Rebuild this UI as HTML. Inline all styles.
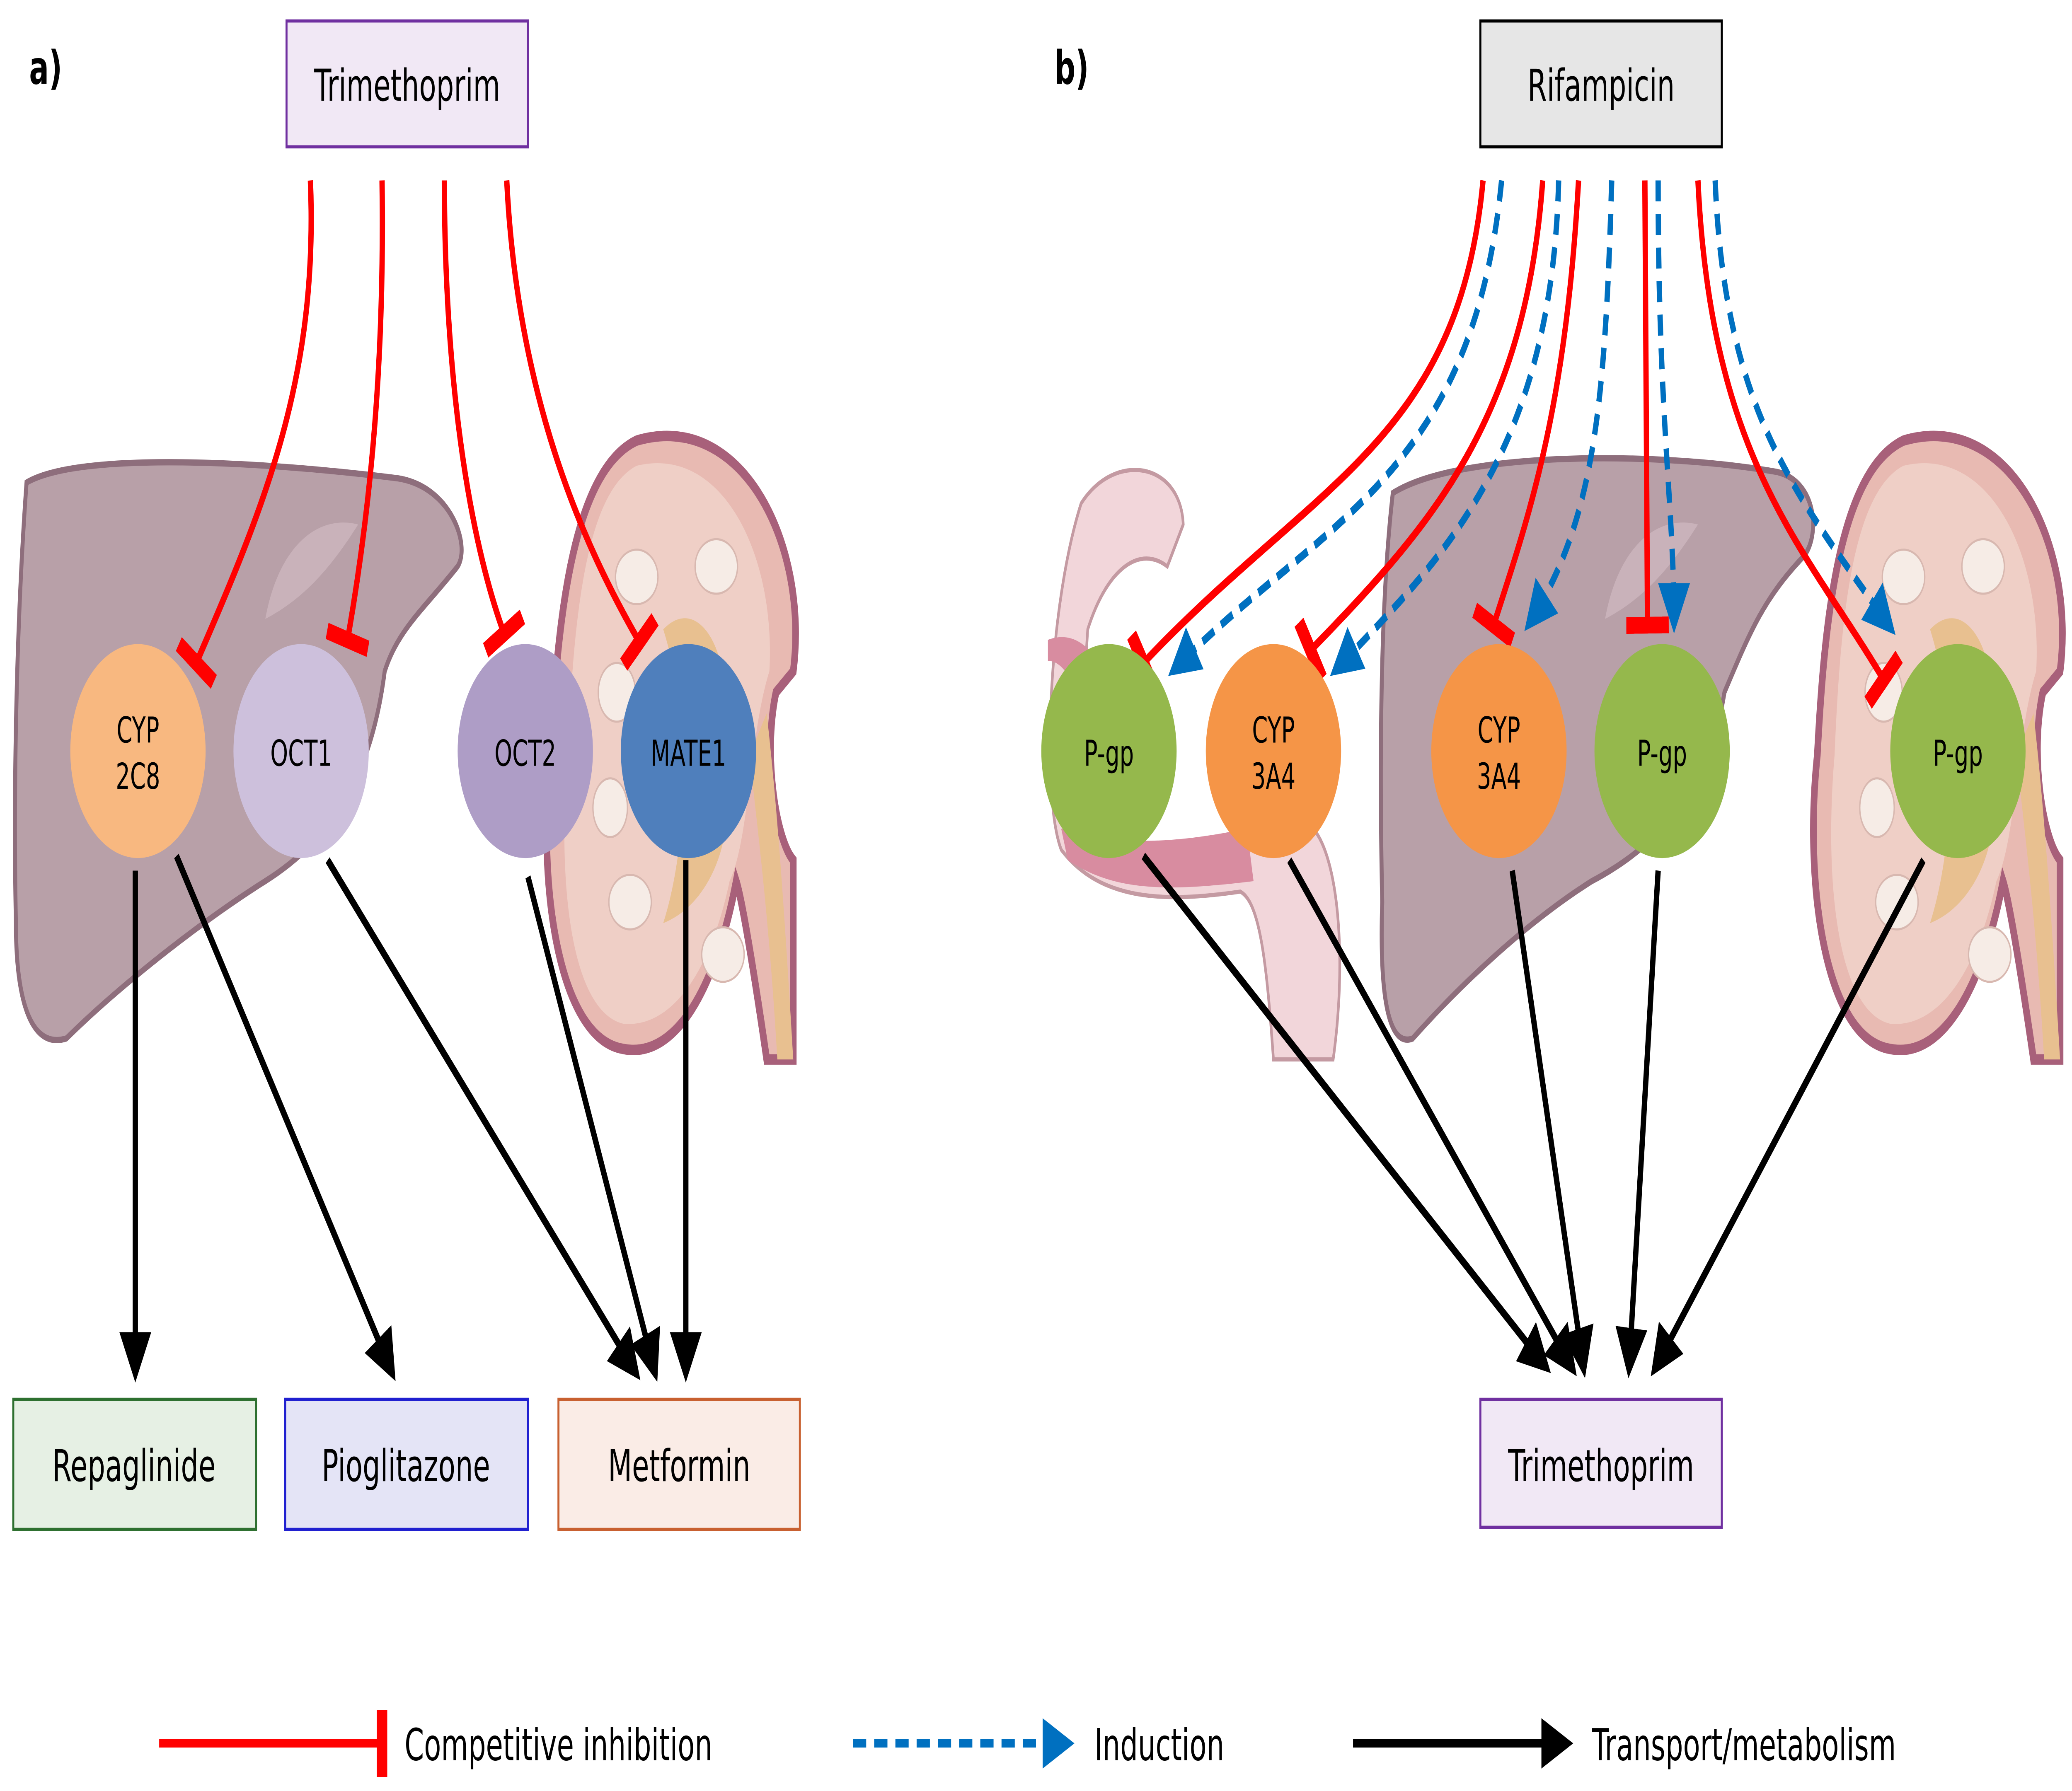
<!DOCTYPE html>
<html><head><meta charset="utf-8"><style>html,body{margin:0;padding:0;background:#fff;width:100%;height:100%;overflow:hidden}svg{display:block;width:100vw;height:100vh}</style></head>
<body>
<svg xmlns="http://www.w3.org/2000/svg" viewBox="0 0 1562 853.7" preserveAspectRatio="none" font-family="'DejaVu Sans','Liberation Sans',sans-serif">
<defs>
<marker id="ab" markerWidth="6" markerHeight="6" refX="5" refY="3" orient="auto" markerUnits="strokeWidth"><path d="M0,0 L6,3 L0,6 z" fill="#000"/></marker>
<marker id="abl" markerWidth="6" markerHeight="6" refX="5" refY="3" orient="auto" markerUnits="strokeWidth"><path d="M0,0 L6,3 L0,6 z" fill="#0070c0"/></marker>
<marker id="tb" markerWidth="2" markerHeight="8" refX="1" refY="4" orient="auto" markerUnits="strokeWidth"><rect x="0" y="0" width="2" height="8" fill="#ff0000"/></marker>
<g id="kin">
<path d="M0,0 C30,-20 60,20 40,60 C60,90 40,130 0,140 C20,100 20,40 0,0 z" fill="#e8c090" transform="translate(80,85)"/>
<ellipse cx="60" cy="60" rx="16" ry="13" fill="#f6ece6" stroke="#d8b8b0"/>
<ellipse cx="120" cy="55" rx="16" ry="13" fill="#f6ece6" stroke="#d8b8b0"/>
<ellipse cx="45" cy="115" rx="14" ry="14" fill="#f6ece6" stroke="#d8b8b0"/>
<ellipse cx="55" cy="215" rx="16" ry="13" fill="#f6ece6" stroke="#d8b8b0"/>
<ellipse cx="125" cy="240" rx="16" ry="13" fill="#f6ece6" stroke="#d8b8b0"/>
<ellipse cx="40" cy="170" rx="13" ry="14" fill="#f6ece6" stroke="#d8b8b0"/>
</g>
</defs>
<rect width="1562" height="853.7" fill="#fff"/>
<path d="M20,230 C60,215 200,220 300,228 C340,232 355,260 345,270 C320,290 300,300 290,320 C280,370 250,400 200,420 C150,440 90,470 50,495 C25,500 12,480 12,440 C10,380 12,300 20,230 z" fill="#b8a0a8" stroke="#8e6e7c" stroke-width="3"/>
<path d="M200,295 C210,260 240,245 270,250 C250,270 230,285 200,295 z" fill="#c9b2ba"/>
<path d="M480,210 C560,195 610,260 598,320 L585,330 C575,360 585,400 598,410 L598,505 L578,505 C570,470 560,430 555,420 C540,470 510,505 470,500 C420,495 405,420 415,360 C420,300 430,225 480,210 z" fill="#e8bab2" stroke="#a8607a" stroke-width="5"/>
<path d="M480,222 C545,212 585,265 580,320 C565,350 565,400 550,420 C535,465 505,490 470,488 C430,482 420,420 428,360 C432,300 440,235 480,222 z" fill="#efcfc6"/>
<use href="#kin" x="420" y="215"/>
<path d="M578,340 C585,380 590,420 598,505 L586,505 C580,440 572,400 565,360 z" fill="#e8c090"/>
<path d="M815,240 C840,215 890,220 892,250 L880,270 C860,260 835,270 820,300 L810,400 C860,410 940,400 990,395 C1010,410 1015,460 1005,505 L960,505 C955,460 950,430 935,425 C880,430 830,430 800,405 C785,380 790,290 815,240 z" fill="#f2d6da" stroke="#c49aa2" stroke-width="2"/>
<path d="M800,395 C850,405 900,400 940,395 L945,420 C880,425 840,425 805,410 z" fill="#d88ca0"/>
<path d="M790,305 C810,300 825,310 830,320 L812,330 C805,320 798,315 790,315 z" fill="#d88ca0"/>
<path d="M1050,235 C1100,215 1250,215 1340,225 C1370,230 1372,255 1360,265 C1330,285 1320,300 1300,330 C1290,370 1260,400 1200,420 C1150,440 1100,470 1065,495 C1045,500 1040,470 1042,430 C1040,370 1040,290 1050,235 z" fill="#b8a0a8" stroke="#8e6e7c" stroke-width="3"/>
<path d="M1210,295 C1220,260 1250,245 1280,250 C1260,270 1240,285 1210,295 z" fill="#c9b2ba"/>
<path d="M1435,210 C1515,195 1565,260 1553,320 L1540,330 C1530,360 1540,400 1553,410 L1553,505 L1533,505 C1525,470 1515,430 1510,420 C1495,470 1465,505 1425,500 C1375,495 1360,420 1370,360 C1375,300 1385,225 1435,210 z" fill="#e8bab2" stroke="#a8607a" stroke-width="5"/>
<path d="M1435,222 C1500,212 1540,265 1535,320 C1520,350 1520,400 1505,420 C1490,465 1460,490 1425,488 C1385,482 1375,420 1383,360 C1387,300 1395,235 1435,222 z" fill="#efcfc6"/>
<use href="#kin" x="1375" y="215"/>
<path d="M1533,340 C1540,380 1545,420 1553,505 L1541,505 C1535,440 1527,400 1520,360 z" fill="#e8c090"/>
<text x="22" y="40" font-size="22" font-weight="bold">a)</text>
<text x="795" y="40" font-size="22" font-weight="bold">b)</text>
<rect x="216" y="10" width="182" height="60" fill="#f1e8f5" stroke="#7030a0" stroke-width="1.5"/>
<text x="307" y="48" font-size="21" text-anchor="middle">Trimethoprim</text>
<rect x="1116" y="10" width="182" height="60" fill="#e6e6e6" stroke="#000" stroke-width="1.5"/>
<text x="1207" y="48" font-size="21" text-anchor="middle">Rifampicin</text>
<g fill="none" stroke="#ff0000" stroke-width="4" marker-end="url(#tb)">
<path d="M234,86 C240,180 200,240 148,316"/>
<path d="M288,86 C290,170 280,240 262,305"/>
<path d="M335,86 C335,170 350,250 380,302"/>
<path d="M382,86 C390,190 440,260 482,306"/>
</g>
<g fill="none" stroke="#ff0000" stroke-width="4" marker-end="url(#tb)">
<path d="M1118,86 C1100,210 990,230 862,316"/>
<path d="M1163,86 C1150,200 1080,250 988,310"/>
<path d="M1190,86 C1180,200 1150,250 1126,298"/>
<path d="M1240,86 L1242,298"/>
<path d="M1280,86 C1290,220 1360,260 1420,324"/>
</g>
<g fill="none" stroke="#0070c0" stroke-width="4" stroke-dasharray="10,6" marker-end="url(#abl)">
<path d="M1132,86 C1110,230 990,250 884,320"/>
<path d="M1175,86 C1170,220 1080,270 1006,320"/>
<path d="M1215,86 C1210,200 1200,250 1152,298"/>
<path d="M1250,86 C1250,200 1262,240 1262,298"/>
<path d="M1293,86 C1300,200 1360,240 1426,300"/>
</g>
<g stroke="#000" stroke-width="4" marker-end="url(#ab)">
<line x1="102" y1="415" x2="102" y2="655"/>
<line x1="133" y1="408" x2="296" y2="655"/>
<line x1="247" y1="410" x2="480" y2="655"/>
<line x1="398" y1="418" x2="494" y2="655"/>
<line x1="517" y1="410" x2="517" y2="655"/>
<line x1="862" y1="408" x2="1166" y2="652"/>
<line x1="972" y1="410" x2="1186" y2="653"/>
<line x1="1140" y1="415" x2="1194" y2="653"/>
<line x1="1250" y1="415" x2="1228" y2="653"/>
<line x1="1450" y1="410" x2="1247" y2="653"/>
</g>
<g font-size="17" text-anchor="middle">
<circle cx="104" cy="358" r="51" fill="#f8b880"/><text x="104" y="354">CYP</text><text x="104" y="376">2C8</text>
<circle cx="227" cy="358" r="51" fill="#cdc0dc"/><text x="227" y="365">OCT1</text>
<circle cx="396" cy="358" r="51" fill="#ae9dc6"/><text x="396" y="365">OCT2</text>
<circle cx="519" cy="358" r="51" fill="#4f7fbc"/><text x="519" y="365">MATE1</text>
<circle cx="836" cy="358" r="51" fill="#95b84c"/><text x="836" y="365">P-gp</text>
<circle cx="960" cy="358" r="51" fill="#f59547"/><text x="960" y="354">CYP</text><text x="960" y="376">3A4</text>
<circle cx="1130" cy="358" r="51" fill="#f59547"/><text x="1130" y="354">CYP</text><text x="1130" y="376">3A4</text>
<circle cx="1253" cy="358" r="51" fill="#95b84c"/><text x="1253" y="365">P-gp</text>
<circle cx="1476" cy="358" r="51" fill="#95b84c"/><text x="1476" y="365">P-gp</text>
</g>
<g font-size="21" text-anchor="middle">
<rect x="10" y="667" width="183" height="62" fill="#e6f0e4" stroke="#2e7030" stroke-width="1.5"/><text x="101" y="706">Repaglinide</text>
<rect x="215" y="667" width="183" height="62" fill="#e4e4f6" stroke="#2020d0" stroke-width="1.5"/><text x="306" y="706">Pioglitazone</text>
<rect x="421" y="667" width="182" height="62" fill="#faece6" stroke="#c86030" stroke-width="1.5"/><text x="512" y="706">Metformin</text>
<rect x="1116" y="667" width="182" height="61" fill="#f1e8f5" stroke="#7030a0" stroke-width="1.5"/><text x="1207" y="706">Trimethoprim</text>
</g>
<line x1="120" y1="831" x2="288" y2="831" stroke="#ff0000" stroke-width="4" marker-end="url(#tb)"/>
<text x="305" y="839" font-size="21">Competitive inhibition</text>
<line x1="643" y1="831" x2="806" y2="831" stroke="#0070c0" stroke-width="4" stroke-dasharray="10,6" marker-end="url(#abl)"/>
<text x="825" y="839" font-size="21">Induction</text>
<line x1="1020" y1="831" x2="1182" y2="831" stroke="#000" stroke-width="4" marker-end="url(#ab)"/>
<text x="1200" y="839" font-size="21">Transport/metabolism</text>
</svg>
</body></html>
